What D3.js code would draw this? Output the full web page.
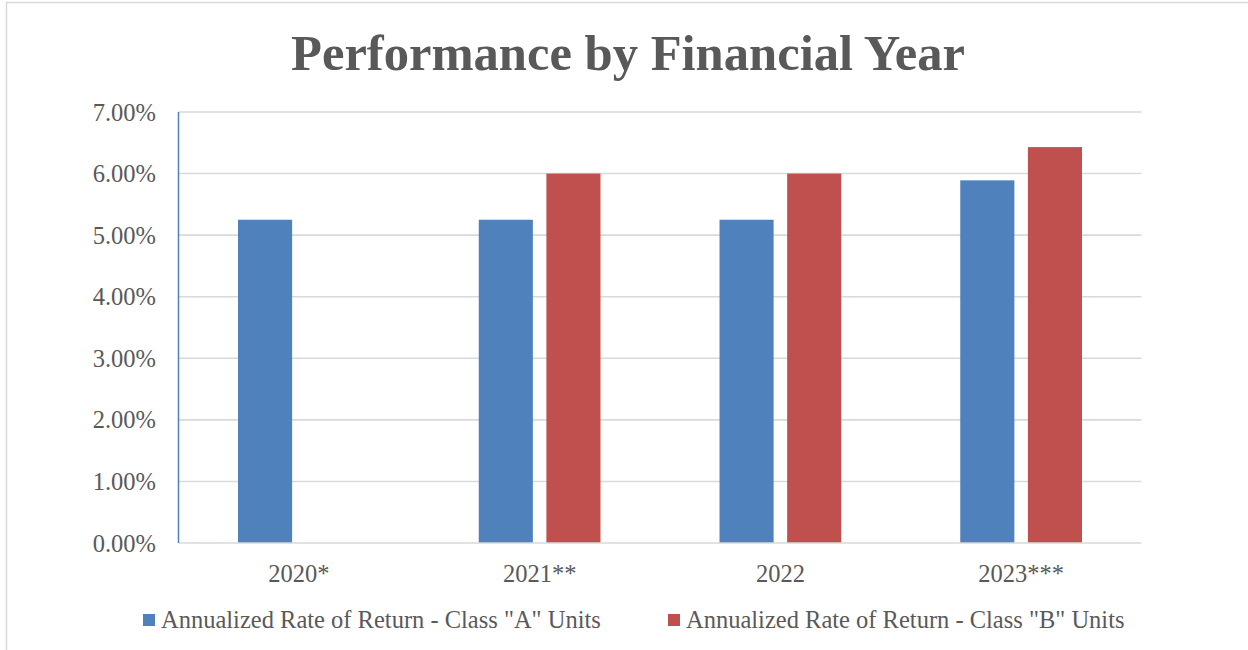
<!DOCTYPE html>
<html>
<head>
<meta charset="utf-8">
<script src="https://cdn.jsdelivr.net/npm/d3@7"></script>
<style>
  html, body { margin: 0; padding: 0; background: #fff; }
  svg { display: block; }
  text { font-family: "Liberation Serif", "Times New Roman", serif; fill: #595959; }
</style>
</head>
<body>
<svg id="chart" width="1248" height="650"></svg>
<script>
const categories = ["2020*", "2021**", "2022", "2023***"];
const seriesNames = ['Annualized Rate of Return - Class "A" Units', 'Annualized Rate of Return - Class "B" Units'];
const classA = [5.25, 5.25, 5.25, 5.89];
const classB = [null, 6.00, 6.00, 6.43];
const yTicks = [0, 1, 2, 3, 4, 5, 6, 7];
const colors = ["#4f81bd", "#c0504d"];

const svg = d3.select("#chart");
const W = 1248, H = 650;
const plot = { left: 178.5, right: 1141.5, top: 112, bottom: 543 };

// outer frame
svg.append("rect")
  .attr("x", 6.5).attr("y", 2.5)
  .attr("width", W + 10).attr("height", H + 10)
  .attr("fill", "#fff").attr("stroke", "#d9d9d9").attr("stroke-width", 1.5);

// title
svg.append("text")
  .attr("x", 628).attr("y", 70)
  .attr("text-anchor", "middle")
  .style("font-size", "50.6px").style("font-weight", "bold")
  .text("Performance by Financial Year");

const y = d3.scaleLinear().domain([0, 7]).range([plot.bottom, plot.top]);
const x0 = d3.scaleBand().domain(categories).range([plot.left, plot.right]).paddingInner(0).paddingOuter(0);
const x1 = d3.scaleBand().domain([0, 1]).range([0, x0.bandwidth()]).paddingInner(0.2).paddingOuter(0.88);

// gridlines
svg.append("g").selectAll("line").data(yTicks.filter(d => d > 0)).join("line")
  .attr("x1", plot.left).attr("x2", plot.right)
  .attr("y1", d => y(d)).attr("y2", d => y(d))
  .attr("stroke", "#d9d9d9").attr("stroke-width", 1.6);

// y tick labels
const yAxis = d3.axisLeft(y).tickValues(yTicks).tickSize(0).tickPadding(0)
  .tickFormat(d => d3.format(".2f")(d) + "%");
const gy = svg.append("g").attr("transform", `translate(156,0)`).call(yAxis);
gy.select(".domain").remove();
gy.selectAll("text").style("font-size", "24.5px").attr("fill", "#595959")
  .attr("dy", "0.33em").attr("x", 0);

// bars
const data = categories.map((c, i) => ({ c, vals: [classA[i], classB[i]] }));
const groups = svg.append("g").selectAll("g").data(data).join("g")
  .attr("transform", d => `translate(${x0(d.c)},0)`);
groups.selectAll("rect").data(d => d.vals.map((v, k) => ({ v, k })).filter(e => e.v != null)).join("rect")
  .attr("x", e => x1(e.k))
  .attr("width", x1.bandwidth())
  .attr("y", e => y(e.v))
  .attr("height", e => y(0) - y(e.v))
  .attr("fill", e => colors[e.k]);

// bottom axis line
svg.append("line")
  .attr("x1", plot.left).attr("x2", plot.right)
  .attr("y1", plot.bottom).attr("y2", plot.bottom)
  .attr("stroke", "#d9d9d9").attr("stroke-width", 1.6);

// left axis line
svg.append("line")
  .attr("x1", plot.left).attr("x2", plot.left)
  .attr("y1", plot.top).attr("y2", plot.bottom)
  .attr("stroke", "#4f81bd").attr("stroke-width", 1.5);

// x labels
const xAxis = d3.axisBottom(x0).tickSize(0).tickPadding(0);
const gx = svg.append("g").attr("transform", `translate(0,${plot.bottom})`).call(xAxis);
gx.select(".domain").remove();
gx.selectAll("text").style("font-size", "24.5px").attr("fill", "#595959")
  .attr("dy", null).attr("y", 39);

// legend
const legendX = [143, 668];
const lg = svg.append("g").selectAll("g").data(seriesNames).join("g")
  .attr("transform", (d, i) => `translate(${legendX[i]},0)`);
lg.append("rect").attr("x", 0).attr("y", 614).attr("width", 12).attr("height", 12)
  .attr("fill", (d, i) => colors[i]);
lg.append("text").attr("x", 18).attr("y", 628)
  .style("font-size", "24.5px").text(d => d);
</script>
</body>
</html>
